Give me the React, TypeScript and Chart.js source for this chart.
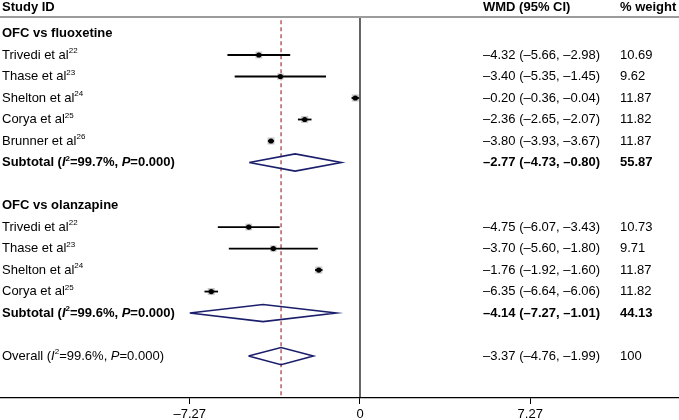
import React, { useEffect, useRef } from "react";
import { Chart, registerables } from "chart.js";

Chart.register(...registerables);

// ---- data ----
const groupHeaders = ["OFC vs fluoxetine", "OFC vs olanzapine"];
const groupRows = [0, 8];

const studyLabels = ["Trivedi et al", "Thase et al", "Shelton et al", "Corya et al", "Brunner et al", "Trivedi et al", "Thase et al", "Shelton et al", "Corya et al"];
const studyRefs = ["22", "23", "24", "25", "26", "22", "23", "24", "25"];
const studyRows = [1, 2, 3, 4, 5, 9, 10, 11, 12];
const studyEst = [-4.32, -3.4, -0.2, -2.36, -3.8, -4.75, -3.7, -1.76, -6.35];
const studyLo = [-5.66, -5.35, -0.36, -2.65, -3.93, -6.07, -5.6, -1.92, -6.64];
const studyHi = [-2.98, -1.45, -0.04, -2.07, -3.67, -3.43, -1.8, -1.6, -6.06];
const studyWeight = [10.69, 9.62, 11.87, 11.82, 11.87, 10.73, 9.71, 11.87, 11.82];

const summaryKinds = ["Subtotal", "Subtotal", "Overall"];
const summaryRows = [6, 13, 15];
const summaryEst = [-2.77, -4.14, -3.37];
const summaryLo = [-4.73, -7.27, -4.76];
const summaryHi = [-0.8, -1.01, -1.99];
const summaryWeight = ["55.87", "44.13", "100"];
const summaryI2 = ["99.7", "99.6", "99.6"];
const summaryP = ["0.000", "0.000", "0.000"];
const summaryBold = [true, true, false];

const xTicks = [-7.27, 0, 7.27];
const overallEst = -3.37;

// ---- layout / style constants ----
const X_MIN = -15.37;
const X_MAX = 13.62;
const Y_MIN = -0.72;
const Y_MAX = 16.95;
const DIAMOND_HALF = 0.4;
const FONT = '"Liberation Sans", Arial, Helvetica, sans-serif';
const NAVY = "#1b1f6b";

const fmt = (v: number) => (v < 0 ? "\u2013" : "") + Math.abs(v).toFixed(2);
const wmdText = (e: number, l: number, h: number) => `${fmt(e)} (${fmt(l)}, ${fmt(h)})`;

type Seg = { t: string; bold?: boolean; italic?: boolean; sup?: boolean };

function drawSegs(ctx: CanvasRenderingContext2D, segs: Seg[], x: number, y: number) {
  let cx = x;
  for (const s of segs) {
    const size = s.sup ? 8 : 13;
    ctx.font = `${s.italic ? "italic " : ""}${s.bold ? "bold " : ""}${size}px ${FONT}`;
    ctx.fillText(s.t, cx, s.sup ? y - 4 : y);
    cx += ctx.measureText(s.t).width;
  }
}

const textPlugin = {
  id: "forestText",
  afterDraw(chart: any) {
    const ctx: CanvasRenderingContext2D = chart.ctx;
    const ys = chart.scales.y;
    const py = (v: number) => ys.getPixelForValue(v);
    const COL_LABEL = 2;
    const COL_WMD = 483;
    const COL_W = 620;
    ctx.save();
    ctx.fillStyle = "#000";
    ctx.textBaseline = "middle";
    ctx.textAlign = "left";

    // header
    ctx.font = `bold 13px ${FONT}`;
    ctx.fillText("Study ID", COL_LABEL, 7);
    ctx.fillText("WMD (95% CI)", COL_WMD, 7);
    ctx.fillText("% weight", COL_W, 7);
    ctx.strokeStyle = "#7a7a7a";
    ctx.lineWidth = 1.5;
    ctx.beginPath();
    ctx.moveTo(0, 17);
    ctx.lineTo(chart.width, 17);
    ctx.stroke();

    // group headers
    groupHeaders.forEach((g, i) => {
      ctx.font = `bold 13px ${FONT}`;
      ctx.fillText(g, COL_LABEL, py(groupRows[i]));
    });

    // studies
    studyLabels.forEach((lab, i) => {
      const y = py(studyRows[i]);
      drawSegs(ctx, [{ t: lab }, { t: studyRefs[i], sup: true }], COL_LABEL, y);
      ctx.font = `13px ${FONT}`;
      ctx.fillText(wmdText(studyEst[i], studyLo[i], studyHi[i]), COL_WMD, y);
      ctx.fillText(studyWeight[i].toFixed(2), COL_W, y);
    });

    // summaries
    summaryKinds.forEach((k, i) => {
      const y = py(summaryRows[i]);
      const b = summaryBold[i];
      drawSegs(
        ctx,
        [
          { t: `${k} (`, bold: b },
          { t: "I", bold: b, italic: true },
          { t: "2", bold: b, sup: true },
          { t: `=${summaryI2[i]}%, `, bold: b },
          { t: "P", bold: b, italic: true },
          { t: `=${summaryP[i]})`, bold: b },
        ],
        COL_LABEL,
        y
      );
      ctx.font = `${b ? "bold " : ""}13px ${FONT}`;
      ctx.fillText(wmdText(summaryEst[i], summaryLo[i], summaryHi[i]), COL_WMD, y);
      ctx.fillText(summaryWeight[i], COL_W, y);
    });
    ctx.restore();
  },
};

export default function App() {
  const ref = useRef<HTMLCanvasElement>(null);

  useEffect(() => {
    if (!ref.current) return;
    const datasets: any[] = [];

    // overall dashed reference line
    datasets.push({
      type: "scatter",
      data: [
        { x: overallEst, y: Y_MIN + 0.1 },
        { x: overallEst, y: Y_MAX },
      ],
      showLine: true,
      borderColor: "#a8464c",
      borderWidth: 1.3,
      borderDash: [4, 3],
      pointRadius: 0,
      order: 20,
    });
    // null line
    datasets.push({
      type: "scatter",
      data: [
        { x: 0, y: Y_MIN },
        { x: 0, y: Y_MAX },
      ],
      showLine: true,
      borderColor: "#000",
      borderWidth: 1.2,
      pointRadius: 0,
      order: 19,
    });
    // weight boxes
    datasets.push({
      type: "scatter",
      data: studyEst.map((e, i) => ({ x: e, y: studyRows[i] })),
      pointStyle: "rect",
      pointRadius: studyWeight.map((w) => Math.sqrt(w) * 1.45),
      backgroundColor: "#c8c8c8",
      borderWidth: 0,
      order: 18,
    });
    // CI lines
    studyEst.forEach((_, i) => {
      datasets.push({
        type: "scatter",
        data: [
          { x: studyLo[i], y: studyRows[i] },
          { x: studyHi[i], y: studyRows[i] },
        ],
        showLine: true,
        borderColor: "#000",
        borderWidth: 1.8,
        pointRadius: 0,
        order: 10,
      });
    });
    // diamonds
    summaryEst.forEach((e, i) => {
      const r = summaryRows[i];
      datasets.push({
        type: "scatter",
        data: [
          { x: summaryLo[i], y: r },
          { x: e, y: r - DIAMOND_HALF },
          { x: summaryHi[i], y: r },
          { x: e, y: r + DIAMOND_HALF },
          { x: summaryLo[i], y: r },
        ],
        showLine: true,
        borderColor: NAVY,
        borderWidth: 1.6,
        borderJoinStyle: "miter",
        pointRadius: 0,
        order: 5,
      });
    });
    // point estimates
    datasets.push({
      type: "scatter",
      data: studyEst.map((e, i) => ({ x: e, y: studyRows[i] })),
      pointStyle: "circle",
      pointRadius: 2.6,
      backgroundColor: "#000",
      borderColor: "#000",
      borderWidth: 0,
      order: 1,
    });

    const chart = new Chart(ref.current, {
      type: "scatter",
      data: { datasets },
      options: {
        animation: false,
        responsive: false,
        events: [],
        layout: { autoPadding: false, padding: { top: 18, left: 0, right: 0, bottom: 0 } },
        plugins: { legend: { display: false }, tooltip: { enabled: false } },
        scales: {
          x: {
            type: "linear",
            min: X_MIN,
            max: X_MAX,
            afterBuildTicks: (s: any) => {
              s.ticks = xTicks.map((v) => ({ value: v }));
            },
            afterFit: (s: any) => {
              s.height = 22;
            },
            ticks: {
              callback: (v: any) => (Number(v) === 0 ? "0" : fmt(Number(v))),
              color: "#000",
              font: { family: FONT, size: 13 },
              padding: 3,
              maxRotation: 0,
              autoSkip: false,
            },
            grid: { drawOnChartArea: false, drawTicks: true, tickLength: 6, color: "#000", lineWidth: 1 },
            border: { display: true, color: "#000", width: 1.2 },
          },
          y: {
            type: "linear",
            reverse: true,
            min: Y_MIN,
            max: Y_MAX,
            display: false,
          },
        },
      },
      plugins: [textPlugin],
    } as any);
    return () => chart.destroy();
  }, []);

  return (
    <div style={{ position: "fixed", left: 0, top: 0, width: 679, height: 420, background: "#fff" }}>
      <canvas ref={ref} width={679} height={420} style={{ display: "block", width: 679, height: 420 }} />
    </div>
  );
}
